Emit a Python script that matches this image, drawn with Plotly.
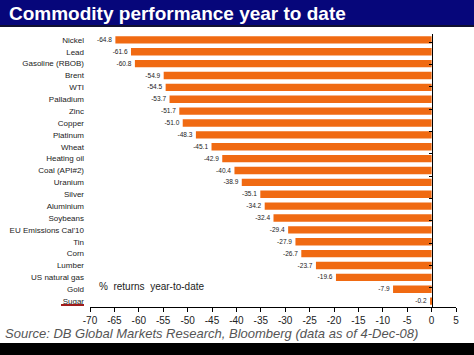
import plotly.graph_objects as go

categories = ["Nickel", "Lead", "Gasoline (RBOB)", "Brent", "WTI", "Palladium", "Zinc",
              "Copper", "Platinum", "Wheat", "Heating oil", "Coal (API#2)", "Uranium",
              "Silver", "Aluminium", "Soybeans", "EU Emissions Cal'10", "Tin", "Corn",
              "Lumber", "US natural gas", "Gold", "Sugar"]
values = [-64.8, -61.6, -60.8, -54.9, -54.5, -53.7, -51.7, -51.0, -48.3, -45.1, -42.9,
          -40.4, -38.9, -35.1, -34.2, -32.4, -29.4, -27.9, -26.7, -23.7, -19.6, -7.9, -0.2]
labels = [f"{v:.1f}" for v in values]
x_ticks = list(range(-70, 6, 5))

W, H = 474, 355
ml, mr, mt, mb = 90, 18, 34, 48
PW, PH = W - ml - mr, H - mt - mb


def px(x):
    return (x - ml) / PW


def py(y):
    return (H - mb - y) / PH


fig = go.Figure()
fig.add_trace(go.Bar(
    y=categories, x=values, orientation="h",
    marker=dict(color="#F06A12", line=dict(width=0)),
    width=0.62,
    text=labels, textposition="outside", cliponaxis=False,
    textfont=dict(family="Liberation Sans, Arial", size=8, color="#222"),
    hoverinfo="skip", showlegend=False,
))
# invisible trace to carry the zero-line axis
fig.add_trace(go.Scatter(y=categories, x=[0] * len(categories), yaxis="y2",
                         mode="none", showlegend=False, hoverinfo="skip"))

fig.update_layout(
    width=W, height=H,
    margin=dict(l=ml, r=mr, t=mt, b=mb, autoexpand=False),
    paper_bgcolor="white", plot_bgcolor="white",
    xaxis=dict(range=[-70, 5], tickvals=x_ticks, ticktext=[str(t) for t in x_ticks],
               showgrid=False, zeroline=False, showline=True, linecolor="black",
               linewidth=1, ticks="outside", ticklen=4, tickcolor="black", automargin=False,
               tickfont=dict(family="Liberation Sans, Arial", size=10, color="#222")),
    yaxis=dict(categoryorder="array", categoryarray=categories, autorange="reversed",
               showgrid=False, zeroline=False, showline=False, ticks="", automargin=False,
               ticklabelstandoff=5,
               tickfont=dict(family="Liberation Sans, Arial", size=8, color="#222")),
    yaxis2=dict(overlaying="y", anchor="free", position=70 / 75, side="left",
                categoryorder="array", categoryarray=categories, autorange="reversed",
                showgrid=False, zeroline=False, showline=True, linecolor="black",
                linewidth=1, ticks="outside", ticklen=3, tickson="boundaries",
                tickcolor="black", showticklabels=False, automargin=False),
    bargap=0.4,
    shapes=[
        dict(type="rect", xref="paper", yref="paper", x0=px(0), x1=px(W),
             y0=py(25), y1=py(0), fillcolor="#06067A", line=dict(width=0), layer="above"),
        dict(type="rect", xref="paper", yref="paper", x0=px(0), x1=px(W),
             y0=py(27), y1=py(25), fillcolor="#101030", line=dict(width=0), layer="above"),
        dict(type="rect", xref="paper", yref="paper", x0=px(0), x1=px(W),
             y0=py(H), y1=py(343), fillcolor="black", line=dict(width=0), layer="above"),
        dict(type="line", xref="paper", yref="paper", x0=px(61), x1=px(84),
             y0=py(305), y1=py(305), line=dict(color="#A01C1C", width=2)),
    ],
    annotations=[
        dict(text="<b>Commodity performance year to date</b>", xref="paper", yref="paper",
             x=px(7), y=py(13), xanchor="left", yanchor="middle", showarrow=False,
             font=dict(family="Liberation Sans, Arial", size=19, color="white")),
        dict(text="%  returns  year-to-date", xref="paper", yref="paper",
             x=px(97), y=py(286), xanchor="left", yanchor="middle", showarrow=False,
             font=dict(family="Liberation Sans, Arial", size=10, color="#222")),
        dict(text="<i>Source: DB Global Markets Research, Bloomberg (data as of 4-Dec-08)</i>",
             xref="paper", yref="paper", x=px(3), y=py(333), xanchor="left", yanchor="middle",
             showarrow=False, font=dict(family="Liberation Sans, Arial", size=13, color="#555")),
    ],
)

fig.write_html("out.html", config={"displayModeBar": False},
               post_script="document.body.style.margin='0';")
